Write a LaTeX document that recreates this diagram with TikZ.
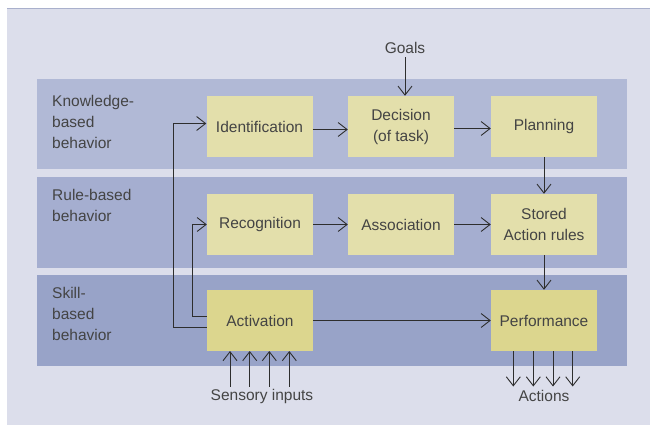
\documentclass[tikz,border=0pt]{standalone}
\usepackage{fontspec}
\setmainfont{Liberation Sans}
\usetikzlibrary{arrows.meta}
\definecolor{bgc}{HTML}{DCDEEB}
\definecolor{bgline}{HTML}{A9B0CC}
\definecolor{bandA}{HTML}{B1B9D6}
\definecolor{bandB}{HTML}{A5AED0}
\definecolor{bandC}{HTML}{98A3C8}
\definecolor{boxc}{HTML}{E3DFAB}
\definecolor{boxd}{HTML}{DCD68E}
\definecolor{txt}{HTML}{444444}
\definecolor{arr}{HTML}{2E2E2E}
\begin{document}
\begin{tikzpicture}[x=1pt,y=-1pt,
  every node/.style={text=txt,font=\fontsize{15.5}{21}\selectfont},
  procbox/.style={fill=boxc,minimum width=106pt,minimum height=61pt,inner sep=0pt,align=center},
  procboxd/.style={procbox,fill=boxd},
  bandlabel/.style={anchor=north west,align=left,inner sep=0pt},
  conn/.style={draw=arr,line width=0.9pt,-{Straight Barb[length=9pt,width=14pt,line width=0.9pt]}}
]
\useasboundingbox (0,0) rectangle (650,425);
\fill[white] (0,0) rectangle (650,425);
\fill[bgc] (7,8) rectangle (650,425);
\draw[bgline,line width=1.2pt] (7,8.5) -- (650,8.5);
% bands
\fill[bandA] (37,79) rectangle (627,169);
\fill[bandB] (37,177) rectangle (627,268);
\fill[bandC] (37,275) rectangle (627,366);
% band labels
\node[bandlabel] (lk) at (52,95) {Knowledge-\\based\\behavior};
\node[bandlabel] (lr) at (52,189.5) {Rule-based\\behavior};
\node[bandlabel] (ls) at (52,287) {Skill-\\based\\behavior};
% boxes
\node[procbox] (id) at (259.5,126.5) {\raisebox{-1.5pt}{Identification}};
\node[procbox] (dec) at (401,126.5) {Decision\\(of task)};
\node[procbox] (plan) at (544,126.5) {\raisebox{-1.5pt}{Planning}};
\node[procbox] (rec) at (260,224.5) {\raisebox{-1.5pt}{Recognition}};
\node[procbox] (assoc) at (401,224.5) {\raisebox{-1.5pt}{Association}};
\node[procbox] (stored) at (544,224.5) {Stored\\Action rules};
\node[procboxd] (act) at (260,320.5) {\raisebox{-1.5pt}{Activation}};
\node[procboxd] (perf) at (544,320.5) {\raisebox{-1.5pt}{Performance}};
% goals
\node (goals) at (405,48) {Goals};
\draw[conn] (goals.south) -- (goals.south |- dec.north);
% knowledge row
\draw[conn] ([yshift=-3pt]id.east) -- ([yshift=-3pt]dec.west);
\draw[conn] ([yshift=-2pt]dec.east) -- ([yshift=-2pt]plan.west);
\draw[conn] (plan.south) -- (stored.north);
% rule row
\draw[conn] (rec) -- (assoc);
\draw[conn] (assoc) -- (stored);
\draw[conn] (stored.south) -- (perf.north);
% skill row
\draw[conn] (act) -- (perf);
% feedback loops
\coordinate (c1) at (173,327.5);
\coordinate (c1t) at (173,123.5);
\coordinate (c2) at (192,316);
\coordinate (c2t) at (192,224.5);
\draw[conn] (act.west |- c1) -- (c1) -- (c1t) -- (id.west |- c1t);
\draw[conn] (act.west |- c2) -- (c2) -- (c2t) -- (rec.west);
% sensory inputs
\node (sens) at (262,396) {Sensory inputs};
\foreach \xx in {230,249.7,269.3,289.3}{
  \draw[conn] (\xx,386.5) -- (\xx,351);
}
% actions
\node (acts) at (544,396) {Actions};
\foreach \xx in {513.3,533.3,553,572.7}{
  \draw[conn] (\xx,351) -- (\xx,386.5);
}
\end{tikzpicture}
\end{document}
